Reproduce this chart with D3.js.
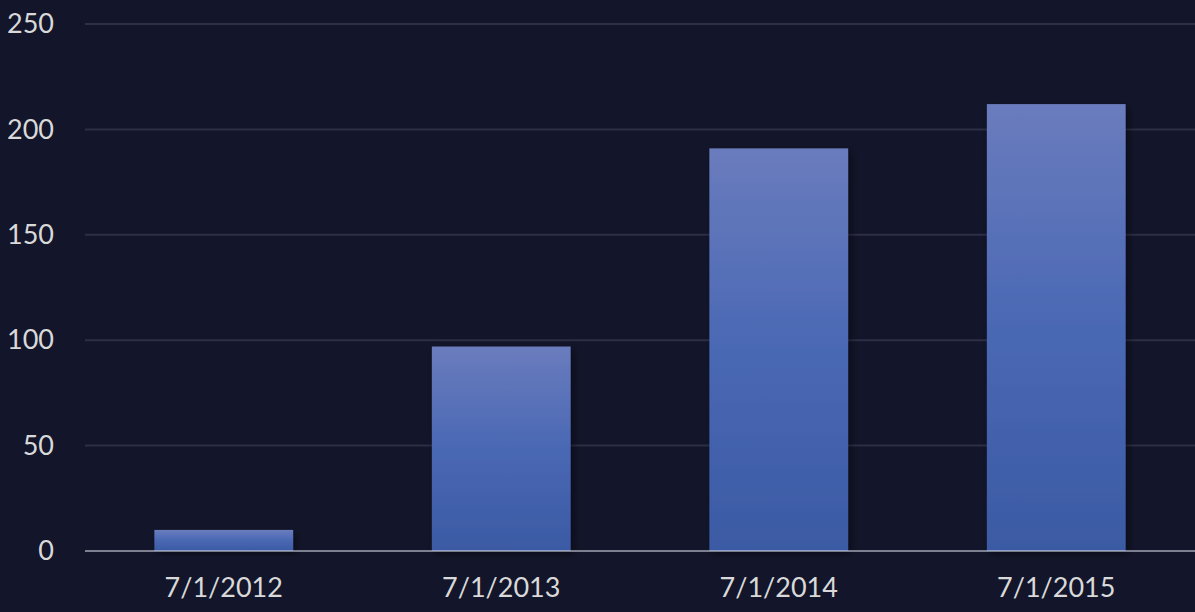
<!DOCTYPE html>
<html>
<head>
<meta charset="utf-8">
<script src="https://cdn.jsdelivr.net/npm/d3@7"></script>
<style>
  html, body { margin: 0; padding: 0; background: #13152a; }
  svg { display: block; }
  .tick text { font-family: Lato, "Open Sans", sans-serif; fill: #d9d9d9; }
</style>
</head>
<body>
<svg width="1195" height="612"></svg>
<script>
var dates = ["7/1/2012", "7/1/2013", "7/1/2014", "7/1/2015"];
var values = [10, 97, 191, 212];
var yTicks = [0, 50, 100, 150, 200, 250];

var svg = d3.select("svg"),
    width = +svg.attr("width"),
    height = +svg.attr("height");

var margin = {top: 24, right: 0, bottom: 61, left: 85};

var x = d3.scaleBand()
    .domain(dates)
    .range([margin.left, width - margin.right])
    .paddingInner(0.5)
    .paddingOuter(0.25);

var y = d3.scaleLinear()
    .domain([0, 250])
    .range([height - margin.bottom, margin.top]);

var defs = svg.append("defs");

var grad = defs.append("linearGradient")
    .attr("id", "barGrad")
    .attr("x1", 0).attr("y1", 0)
    .attr("x2", 0).attr("y2", 1);
grad.append("stop").attr("offset", "0%").attr("stop-color", "#6a7cbd");
grad.append("stop").attr("offset", "50%").attr("stop-color", "#4a68b4");
grad.append("stop").attr("offset", "100%").attr("stop-color", "#3b5aa4");

var shadow = defs.append("filter")
    .attr("id", "shadow")
    .attr("x", "-10%").attr("y", "-10%")
    .attr("width", "130%").attr("height", "130%");
shadow.append("feDropShadow")
    .attr("dx", 3).attr("dy", 3)
    .attr("stdDeviation", 4)
    .attr("flood-color", "#000")
    .attr("flood-opacity", 0.45);

// gridlines
svg.append("g")
    .selectAll("line")
    .data(yTicks.slice(1))
    .enter().append("line")
      .attr("x1", margin.left)
      .attr("x2", width - margin.right)
      .attr("y1", function(d) { return y(d); })
      .attr("y2", function(d) { return y(d); })
      .attr("stroke", "#2c2f45")
      .attr("stroke-width", 2);

// bars
svg.append("g")
    .selectAll("rect")
    .data(values)
    .enter().append("rect")
      .attr("x", function(d, i) { return x(dates[i]); })
      .attr("y", function(d) { return y(d); })
      .attr("width", x.bandwidth())
      .attr("height", function(d) { return y(0) - y(d); })
      .attr("fill", "url(#barGrad)")
      .attr("filter", "url(#shadow)");

// baseline
svg.append("line")
    .attr("x1", margin.left)
    .attr("x2", width - margin.right)
    .attr("y1", y(0))
    .attr("y2", y(0))
    .attr("stroke", "#d6d8e6")
    .attr("stroke-opacity", 0.55)
    .attr("stroke-width", 2);

// y axis labels
var yAxis = svg.append("g")
    .attr("transform", "translate(" + margin.left + ",0)")
    .call(d3.axisLeft(y).tickValues(yTicks).tickSize(0).tickPadding(31));
yAxis.select(".domain").remove();
yAxis.selectAll("text").style("font-size", "27px");

// x axis labels
var xAxis = svg.append("g")
    .attr("transform", "translate(0," + y(0) + ")")
    .call(d3.axisBottom(x).tickSize(0).tickPadding(27));
xAxis.select(".domain").remove();
xAxis.selectAll("text").style("font-size", "27px");
</script>
</body>
</html>
